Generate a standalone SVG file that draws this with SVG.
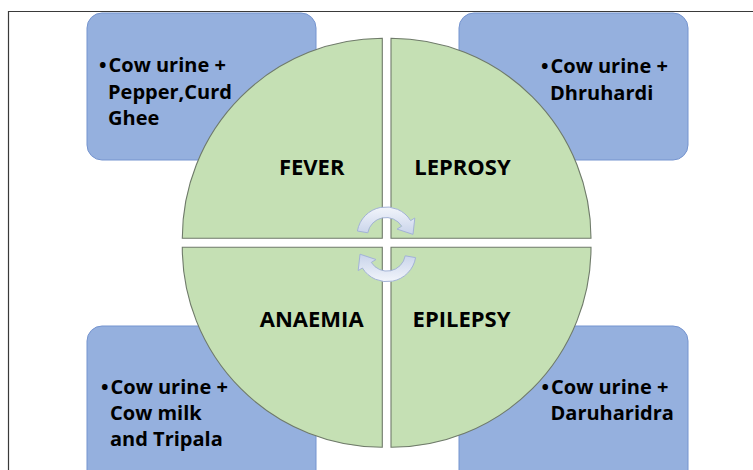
<svg xmlns="http://www.w3.org/2000/svg" width="753" height="470" viewBox="0 0 753 470">
  <defs>
    <linearGradient id="arrowGrad" x1="0" y1="0" x2="0" y2="1">
      <stop offset="0" stop-color="#f2f5fb"/>
      <stop offset="1" stop-color="#c8d3ea"/>
    </linearGradient>
    <style>
      .box { fill: #95b0de; stroke: #7594cf; stroke-width: 1; }
      .quad { fill: #c5e0b4; stroke: #6f7a6a; stroke-width: 1.1; }
      .qlabel { font-family: "Open Sans", "Liberation Sans", sans-serif; font-weight: 700; font-size: 22px; fill: #000; text-anchor: middle; }
      .btext { font-family: "Open Sans", "Liberation Sans", sans-serif; font-weight: 700; font-size: 20px; fill: #000; }
      .frame { stroke: #3a3a3a; stroke-width: 1.2; fill: none; }
      .carrow { fill: url(#arrowGrad); stroke: #a3b3d6; stroke-width: 1; }
    </style>
  </defs>
  <rect width="753" height="470" fill="#ffffff"/>
  <g id="frame">
    <path class="frame" d="M8.5,470 L8.5,11.5 L753,11.5"/>
  </g>

  <g id="box-fever">
    <rect class="box" x="87" y="13" width="229" height="147" rx="15" ry="15"/>
    <text class="btext"><tspan x="99" y="71.5">•</tspan><tspan x="108.5" y="71.5">Cow urine +</tspan><tspan x="108" y="98.5">Pepper,Curd</tspan><tspan x="108" y="125">Ghee</tspan></text>
  </g>
  <g id="box-leprosy">
    <rect class="box" x="459" y="13" width="229" height="147" rx="15" ry="15"/>
    <text class="btext"><tspan x="541" y="72.5">•</tspan><tspan x="550.5" y="72.5">Cow urine +</tspan><tspan x="550" y="100">Dhruhardi</tspan></text>
  </g>
  <g id="box-anaemia">
    <rect class="box" x="87" y="326" width="229" height="160" rx="15" ry="15"/>
    <text class="btext"><tspan x="101" y="394">•</tspan><tspan x="110.5" y="394">Cow urine +</tspan><tspan x="110" y="420">Cow milk</tspan><tspan x="110" y="446">and Tripala</tspan></text>
  </g>
  <g id="box-epilepsy">
    <rect class="box" x="459" y="326" width="229" height="160" rx="15" ry="15"/>
    <text class="btext"><tspan x="541.5" y="394">•</tspan><tspan x="551" y="394">Cow urine +</tspan><tspan x="550.5" y="420">Daruharidra</tspan></text>
  </g>

  <g id="quad-fever">
    <path class="quad" d="M382.3,238.3 L182.3,238.3 A200,200 0 0 1 382.3,38.3 Z"/>
    <text class="qlabel" x="311.7" y="175">FEVER</text>
  </g>
  <g id="quad-leprosy">
    <path class="quad" d="M391,238.3 L391,38.3 A200,200 0 0 1 591,238.3 Z"/>
    <text class="qlabel" x="462.5" y="175">LEPROSY</text>
  </g>
  <g id="quad-anaemia">
    <path class="quad" d="M382.3,247.3 L382.3,447.3 A200,200 0 0 1 182.3,247.3 Z"/>
    <text class="qlabel" x="311.7" y="327">ANAEMIA</text>
  </g>
  <g id="quad-epilepsy">
    <path class="quad" d="M391,247.3 L591,247.3 A200,200 0 0 1 391,447.3 Z"/>
    <text class="qlabel" x="461.5" y="327">EPILEPSY</text>
  </g>

  <g id="connectors">
    <path id="arrow-top" class="carrow" d="M357.4,231 A29,29 0 0 1 410.6,220.6 L414.8,218 L413,234.4 L397,229.1 L401.7,226.2 A18.5,18.5 0 0 0 367.8,232.8 Z"/>
    <path id="arrow-bottom" class="carrow" transform="rotate(180 386.5 244.3)" d="M357.4,231 A29,29 0 0 1 410.6,220.6 L414.8,218 L413,234.4 L397,229.1 L401.7,226.2 A18.5,18.5 0 0 0 367.8,232.8 Z"/>
  </g>
</svg>
